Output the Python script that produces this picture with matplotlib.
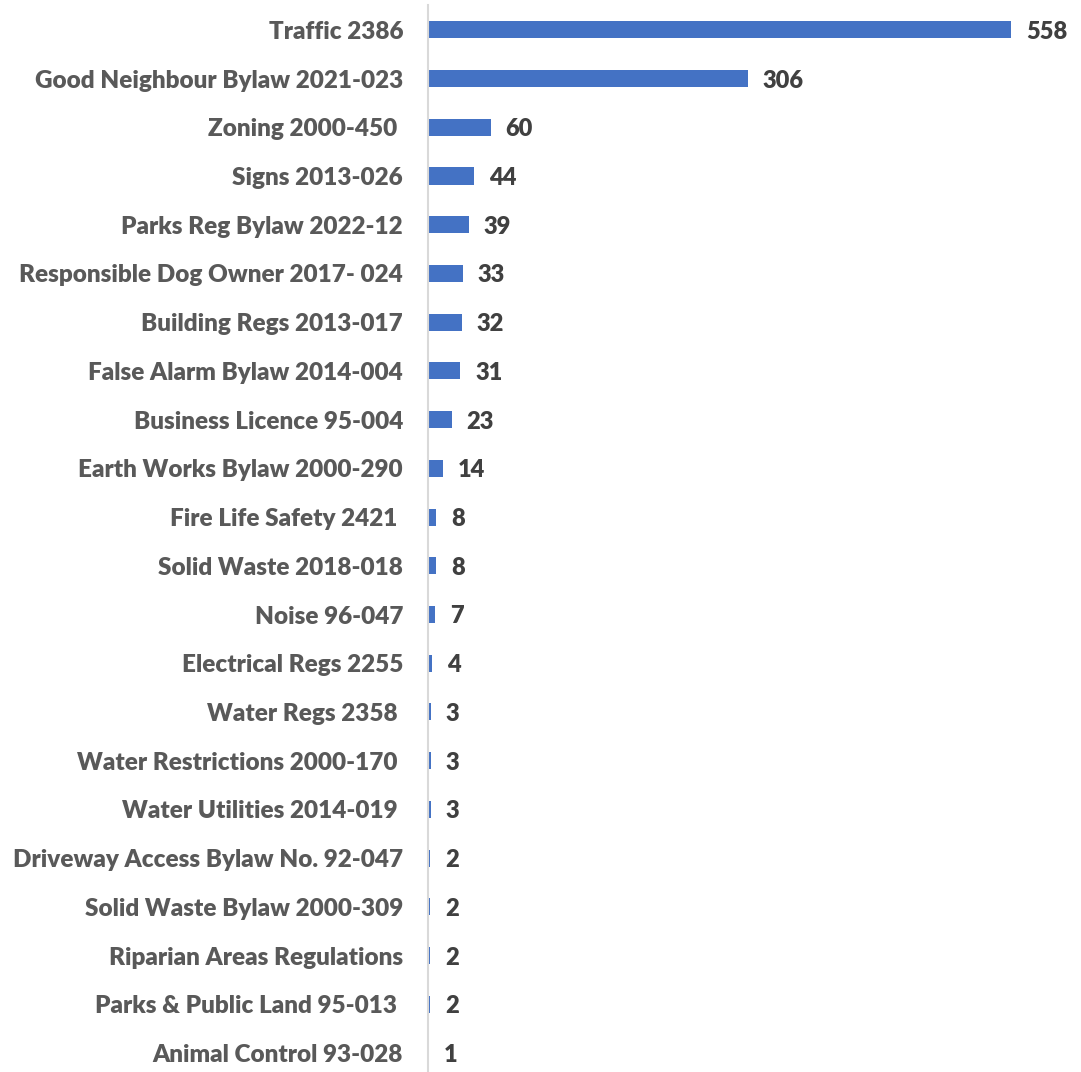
"""Horizontal bar chart of bylaw file counts."""

import matplotlib
matplotlib.use("Agg")
import matplotlib.pyplot as plt

BYLAWS = [
    "Traffic 2386",
    "Good Neighbour Bylaw 2021-023",
    "Zoning 2000-450 ",
    "Signs 2013-026",
    "Parks Reg Bylaw 2022-12",
    "Responsible Dog Owner 2017- 024",
    "Building Regs 2013-017",
    "False Alarm Bylaw 2014-004",
    "Business Licence 95-004",
    "Earth Works Bylaw 2000-290",
    "Fire Life Safety 2421 ",
    "Solid Waste 2018-018",
    "Noise 96-047",
    "Electrical Regs 2255",
    "Water Regs 2358 ",
    "Water Restrictions 2000-170 ",
    "Water Utilities 2014-019 ",
    "Driveway Access Bylaw No. 92-047",
    "Solid Waste Bylaw 2000-309",
    "Riparian Areas Regulations",
    "Parks & Public Land 95-013 ",
    "Animal Control 93-028",
]
COUNTS = [558, 306, 60, 44, 39, 33, 32, 31, 23, 14, 8, 8, 7, 4, 3, 3, 3, 2, 2, 2, 2, 1]

BAR_COLOR = "#4472C4"
LABEL_COLOR = "#595959"
VALUE_COLOR = "#404040"

plt.rcParams["font.family"] = ["Lato", "DejaVu Sans"]

fig = plt.figure(figsize=(10.81, 10.72), dpi=100)
ax = fig.add_axes([0.396, 0.0, 0.58, 1 - 5 / 1072])

ypos = list(range(len(BYLAWS)))
ax.barh(ypos, COUNTS, height=0.35, color=BAR_COLOR, zorder=2)

for y, v in zip(ypos, COUNTS):
    ax.text(v + 14, y + 0.04, str(v), ha="left", va="center", fontsize=17,
            fontweight="heavy", color=VALUE_COLOR)

ax.set_yticks(ypos)
ax.set_yticklabels(BYLAWS, fontsize=17.5, fontweight="heavy", color=LABEL_COLOR)
ax.tick_params(axis="y", length=0, pad=18)
ax.set_xticks([])
ax.set_xlim(0, 600)
ax.set_ylim(21.39, -0.51)

for side in ("top", "right", "bottom"):
    ax.spines[side].set_visible(False)
ax.spines["left"].set_color("#D9D9D9")
ax.spines["left"].set_linewidth(1.5)
ax.spines["left"].set_zorder(3)

fig.savefig("out.png", dpi=100)
plt.close(fig)
